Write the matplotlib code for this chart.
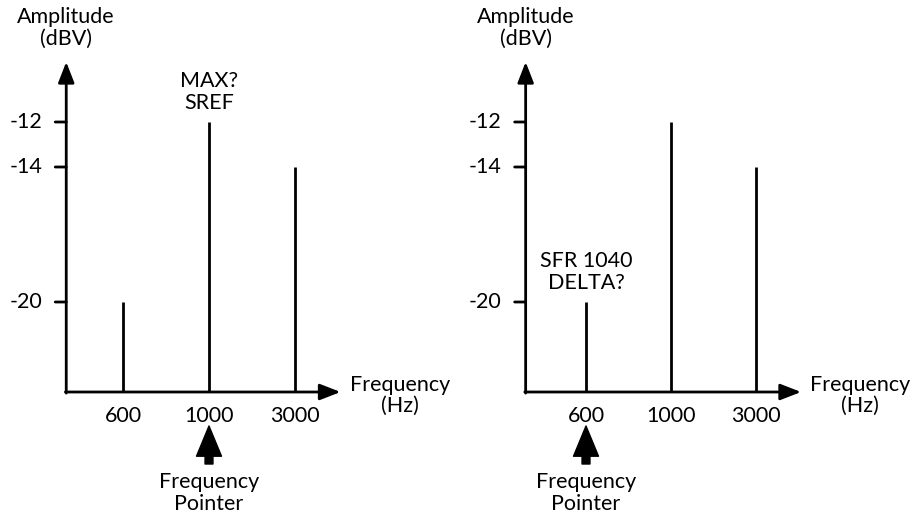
import matplotlib
matplotlib.use("Agg")
import matplotlib.pyplot as plt
from matplotlib.patches import FancyArrowPatch

plt.rcParams['font.family'] = ['Lato', 'DejaVu Sans']

# ---- data ----
freq_labels = ["600", "1000", "3000"]
amplitudes = [-20, -12, -14]
ytick_values = [-12, -14, -20]
panel_pointer = [1, 0]          # index of the frequency pointer in each panel
panel_note = ["MAX?\nSREF", "SFR 1040\nDELTA?"]
panel_note_index = [1, 0]

FS = 15.5
LS = 1.15
fig = plt.figure(figsize=(9.17, 5.16), dpi=100)

axes_rects = [
    [37 / 917, 79 / 516, 387 / 917, 405 / 516],
    [501 / 917, 79 / 516, 382.5 / 917, 405 / 516],
]
yaxis_x = [-0.66, -0.71]
PX_PER_DB = 22.5

base = -24.0
ytop = -9.33
xtip = 2.53
axis_arrow = dict(arrowstyle="-|>,head_length=0.9,head_width=0.35",
                  lw=2, color="black", shrinkA=0, shrinkB=0, mutation_scale=14)

for p, rect in enumerate(axes_rects):
    ax = fig.add_axes(rect)
    ax.set_xlim(-1, 3.5)
    ax.set_ylim(-26, -8)
    ax.axis("off")
    x0 = yaxis_x[p]
    xs = list(range(len(freq_labels)))

    # axes arrows
    ax.annotate("", xy=(x0, ytop), xytext=(x0, base - 0.05), arrowprops=axis_arrow)
    ax.annotate("", xy=(xtip, base), xytext=(x0 - 0.01, base), arrowprops=axis_arrow)

    # spectral lines
    ax.vlines(xs, base, amplitudes, colors="black", lw=2)

    # y ticks
    for v in ytick_values:
        ax.annotate("", xy=(x0, v), xytext=(-11, 0), textcoords="offset pixels",
                    arrowprops=dict(arrowstyle="-", lw=2, color="black",
                                    shrinkA=0, shrinkB=0))
        ax.annotate(str(v), xy=(x0, v), xytext=(-24, 0), textcoords="offset pixels",
                    ha="right", va="center", fontsize=FS)

    # x tick labels
    for x, lab in zip(xs, freq_labels):
        ax.annotate(lab, xy=(x, base), xytext=(0, -24), textcoords="offset pixels",
                    ha="center", va="center", fontsize=FS, annotation_clip=False)

    # axis titles
    ax.annotate("Amplitude\n(dBV)", xy=(x0, ytop), xytext=(0, 34),
                textcoords="offset pixels", ha="center", va="center",
                fontsize=FS, linespacing=LS, annotation_clip=False)
    ax.annotate("Frequency\n(Hz)", xy=(3.22, base), xytext=(0, -3),
                textcoords="offset pixels", ha="center", va="center",
                fontsize=FS, linespacing=1.05, annotation_clip=False)

    # note above a peak
    ni = panel_note_index[p]
    ax.annotate(panel_note[p], xy=(ni, amplitudes[ni]), xytext=(0, 30),
                textcoords="offset pixels", ha="center", va="center",
                fontsize=FS, linespacing=LS, annotation_clip=False)

    # frequency pointer
    pi = panel_pointer[p]
    ax.annotate("Frequency\nPointer", xy=(pi, base), xytext=(0, -101),
                textcoords="offset pixels", ha="center", va="center",
                fontsize=FS, linespacing=LS, annotation_clip=False)
    tip_px, tail_px = 34, 72
    arr = FancyArrowPatch(
        posA=(pi, base - tail_px / PX_PER_DB), posB=(pi, base - tip_px / PX_PER_DB),
        arrowstyle="simple,head_width=1.2,head_length=1.45,tail_width=0.38",
        mutation_scale=15, color="black", shrinkA=0, shrinkB=0,
        transform=ax.transData)
    arr.set_clip_on(False)
    ax.add_patch(arr)

fig.savefig("out.png", dpi=100)
